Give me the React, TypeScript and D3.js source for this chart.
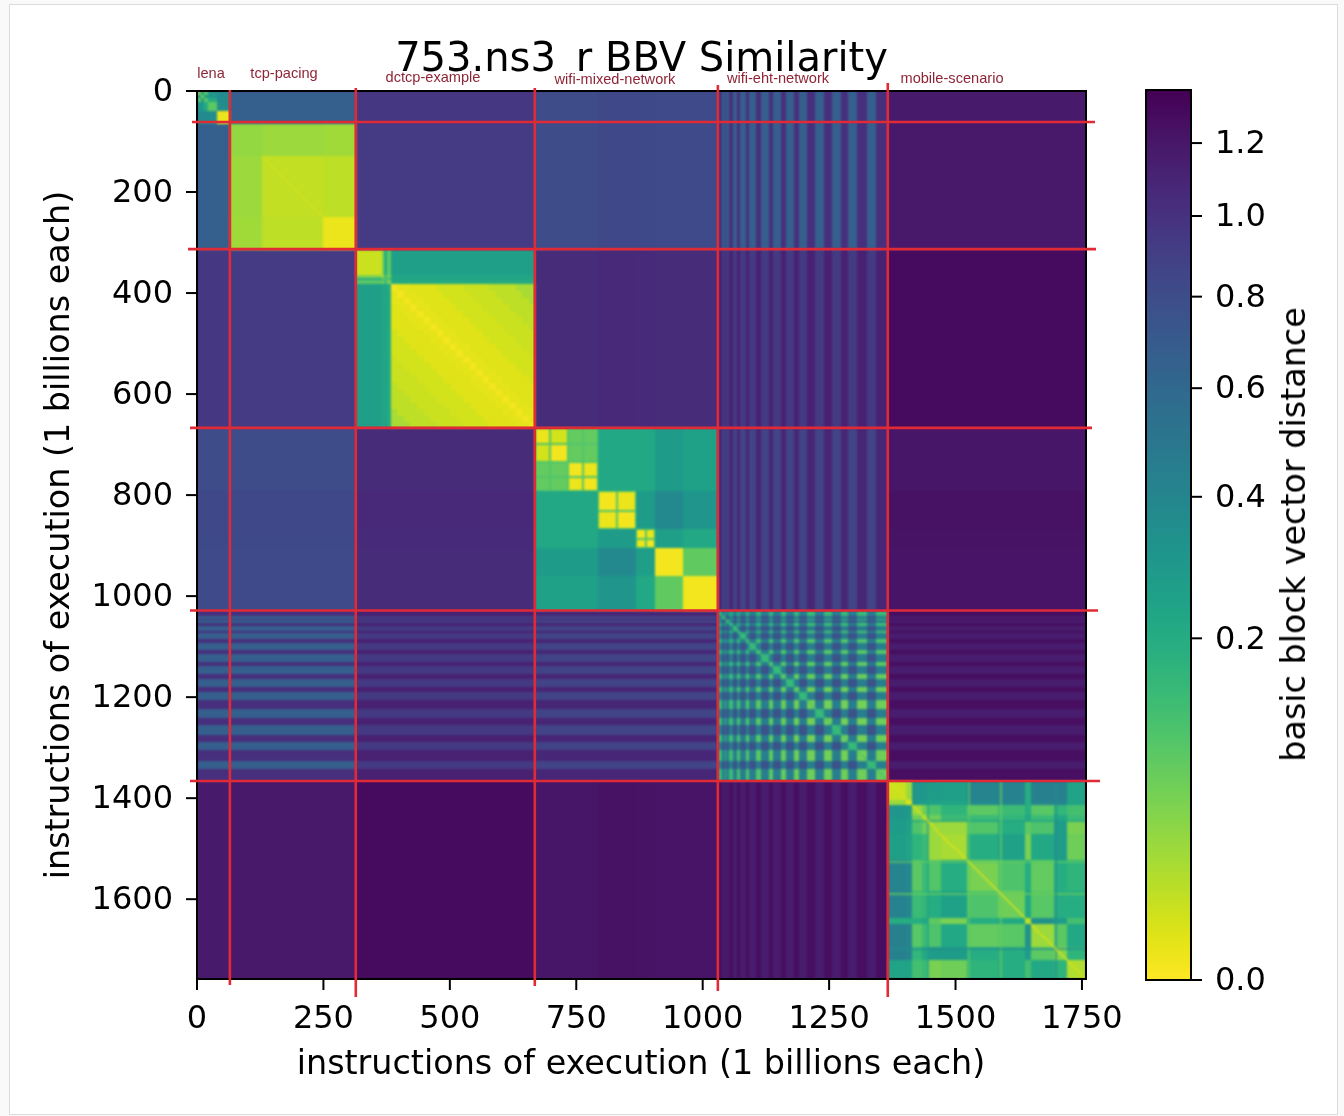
import React, { useEffect, useRef } from "react";
import * as d3 from "d3";

// ---------- data ----------
const N = 1758;
const VMAX = 1.357;
const title = "753.ns3_r BBV Similarity";
const axisLabel = "instructions of execution (1 billions each)";
const cbarLabel = "basic block vector distance";
const xTicks = [0, 250, 500, 750, 1000, 1250, 1500, 1750];
const yTicks = [0, 200, 400, 600, 800, 1000, 1200, 1400, 1600];
const cbarTicks = [0, 0.2, 0.4, 0.6, 0.8, 1.0, 1.2];
const programNames = ["lena", "tcp-pacing", "dctcp-example", "wifi-mixed-network", "wifi-eht-network", "mobile-scenario"];
const xBoundaries = [65, 314, 668, 1030, 1366];
const yBoundaries = [61.5, 313, 667, 1028.5, 1366];

const lenaEdges = [0, 7, 14, 21, 40, 65];
const tcpEdges = [65, 128, 250, 314];
const dctcpEdges = [314, 365, 369.5, 375, 383, 396, 409, 422, 435, 448, 461, 474, 487, 500, 513, 526, 539, 552, 565, 578, 591, 604, 617, 630, 643, 656, 668];
const mixedEdges = [668, 698, 734, 764, 792, 831, 868, 887, 905, 961, 1030];
const ehtEdges = [1030, 1039, 1045, 1046.5, 1053, 1059, 1068.5, 1073.5, 1085, 1092, 1106, 1115, 1131, 1139, 1154.5, 1164.5, 1180, 1190, 1206, 1223, 1240.5, 1256, 1274, 1288, 1305.5, 1325.5, 1343, 1366];
const mobileEdges = [1366, 1403, 1413, 1433, 1446, 1471, 1523, 1584, 1637, 1649, 1695, 1720, 1758];

// upper triangles: each row starts on the diagonal
const lenaTri = [
  [0.054, 0.275, 0.085, 0.3, 0.367],
  [0.054, 0.275, 0.3, 0.367],
  [0.085, 0.2, 0.367],
  [0.085, 0.36],
  [0.0012],
];
const tcpTri = [
  [0.035, 0.031, 0.027],
  [0.011, 0.0136],
  [0.0012],
];
const dctcpHeadTri = [
  [0.0087, 0.05, 0.2, 0.09],
  [0.02, 0.13, 0.06],
  [0.11, 0.14],
  [0.05],
];
const dctcpHeadToBody = [0.262, 0.225, 0.235, 0.21];
const dctcpFalloff = [0.0005, 0.0022, 0.0022, 0.0034, 0.0034, 0.0034, 0.0034, 0.0066, 0.0066, 0.0066, 0.0066, 0.0087, 0.0087, 0.0087, 0.0087, 0.0136, 0.0136, 0.0136, 0.0136, 0.023, 0.023, 0.023];
const mixedTri = [
  [0.0012, 0.0066, 0.078, 0.078, 0.217, 0.217, 0.217, 0.217, 0.275, 0.251],
  [0.0005, 0.078, 0.078, 0.217, 0.217, 0.217, 0.217, 0.275, 0.251],
  [0.0005, 0.0012, 0.217, 0.217, 0.217, 0.217, 0.275, 0.251],
  [0.0005, 0.217, 0.217, 0.217, 0.217, 0.275, 0.251],
  [0.0005, 0.0012, 0.275, 0.275, 0.381, 0.313],
  [0.0005, 0.275, 0.275, 0.381, 0.313],
  [0.0005, 0.0012, 0.263, 0.217],
  [0.0005, 0.263, 0.217],
  [0.0005, 0.08],
  [0.0005],
];
const mixedCluster = [0, 0, 1, 1, 2, 2, 3, 3, -1, -1];
const mixedGapValue = 0.1;
const mixedShade = [-0.01, -0.01, -0.01, -0.01, 0.015, 0.015, 0.005, 0.005, -0.005, -0.005];
const ehtLightA = [0.22, 0.22, 0.196, 0.166, 0.139, 0.122, 0.1, 0.085, 0.07, 0.062, 0.062, 0.062, 0.062, 0.07];
const ehtBB = 0.76;
const ehtAB = 0.45;
const mobileTri = [
  [0.0087, 0.0305, 0.313, 0.3, 0.275, 0.263, 0.41, 0.426, 0.196, 0.441, 0.441, 0.239],
  [0.0034, 0.287, 0.275, 0.251, 0.239, 0.381, 0.396, 0.196, 0.41, 0.41, 0.239],
  [0.0305, 0.066, 0.106, 0.166, 0.085, 0.139, 0.196, 0.092, 0.157, 0.122],
  [0.0305, 0.066, 0.139, 0.139, 0.157, 0.217, 0.139, 0.217, 0.139],
  [0.0305, 0.0305, 0.099, 0.196, 0.085, 0.106, 0.275, 0.054],
  [0.023, 0.196, 0.251, 0.054, 0.217, 0.275, 0.066],
  [0.054, 0.106, 0.196, 0.078, 0.196, 0.166],
  [0.066, 0.217, 0.092, 0.196, 0.196],
  [0.0195, 0.339, 0.275, 0.122],
  [0.0305, 0.085, 0.217],
  [0.044, 0.166],
  [0.0195],
];
const mobileLineStart = [1444, 1525, 1588, 1697];
const mobileLineEnd = [1448, 1528, 1591, 1701];
const mobileLineValue = [0.26, 0.09, 0.07, 0.36];
// order: lena, tcp, dctcp, mixed, (eht), mobile
const crossDistance = [
  [0, 0.665, 0.96, 0.82, 0, 1.18],
  [0.665, 0, 0.93, 0.82, 0, 1.19],
  [0.96, 0.93, 0, 1.05, 0, 1.28],
  [0.82, 0.82, 1.05, 0, 0, 1.22],
  [0, 0, 0, 0, 0, 0],
  [1.18, 1.19, 1.28, 1.22, 0, 0],
];
const ehtDarkToProgram = [1.02, 1.02, 1.12, 1.08, 0, 1.26];
const ehtBandToProgram = [0.665, 0.665, 0.935, 0.868, 0, 1.16];
const diagonalStart = [128, 1030, 1366];
const diagonalEnd = [250, 1366, 1758];
const diagonalValue = [0.007, 0.12, 0.005];
const diagonalStep = [4, 3, 4];

// ---------- lookup ----------
const programEdges = [lenaEdges, tcpEdges, dctcpEdges, mixedEdges, ehtEdges, mobileEdges];
const tri = (m: number[][], a: number, b: number) => (a <= b ? m[a][b - a] : m[b][a - b]);
const DCTCP_HEAD = 4;
function own(p: number, a: number, b: number): number {
  if (p === 0) return tri(lenaTri, a, b);
  if (p === 1) return tri(tcpTri, a, b);
  if (p === 2) {
    if (a < DCTCP_HEAD && b < DCTCP_HEAD) return tri(dctcpHeadTri, a, b);
    if (a < DCTCP_HEAD) return dctcpHeadToBody[a];
    if (b < DCTCP_HEAD) return dctcpHeadToBody[b];
    return dctcpFalloff[Math.abs(a - b)];
  }
  if (p === 3) return tri(mixedTri, a, b);
  if (p === 4) {
    const aIsB = a % 2 === 1, bIsB = b % 2 === 1;
    if (aIsB && bIsB) return a === b ? 0.16 : ehtBB;
    if (aIsB || bIsB) return ehtAB;
    return (ehtLightA[a / 2] + ehtLightA[b / 2]) / 2;
  }
  return tri(mobileTri, a, b);
}
function cross(p: number, a: number, q: number, b: number): number {
  if (q === 4) return b % 2 === 1 ? ehtBandToProgram[p] : ehtDarkToProgram[p];
  if (p === 4) return a % 2 === 1 ? ehtBandToProgram[q] : ehtDarkToProgram[q];
  let v = crossDistance[p][q];
  if (p === 3) v += mixedShade[a];
  if (q === 3) v += mixedShade[b];
  return v;
}

const segments = programEdges.flatMap((edges, p) =>
  d3.pairs(edges).map(([x0, x1], i) => ({ p, i, x0, x1 }))
);

// ---------- layout ----------
const PW = 1344, PH = 1116;
const x = d3.scaleLinear().domain([0, N]).range([197, 1086]);
const y = d3.scaleLinear().domain([0, N]).range([91, 979]);
const colorNorm = d3.scaleSqrt().domain([0, VMAX]).range([1, 0]);
const color = (v: number) => d3.interpolateViridis(colorNorm(Math.max(0, Math.min(VMAX, v))));
const cbarY = d3.scaleSqrt().domain([0, VMAX]).range([980, 90]);
const CB_L = 1146, CB_R = 1191;
const INK = "#000";
const RED = "#e02a36";
const LABEL_RED = "#8e2536";
const FONT = "'DejaVu Sans', sans-serif";
const labelPos = [[211, 77.5], [284, 77.5], [433, 81.5], [615, 83.5], [778, 82.5], [952, 82.5]];
const vLineEnds = [[90, 985], [88, 997], [88, 986], [85, 991], [83, 997]];
const hLineEnds = [[192, 1095], [188, 1096], [190, 1092], [190, 1098], [190, 1100]];

function Axis({ kind }: { kind: "x" | "y" | "c" }) {
  const ref = useRef<SVGGElement>(null);
  useEffect(() => {
    const g = d3.select(ref.current!);
    const fmt = kind === "c" ? (d: any) => d3.format(".1f")(d) : (d: any) => String(d);
    const axis =
      kind === "x" ? d3.axisBottom(x).tickValues(xTicks)
      : kind === "y" ? d3.axisLeft(y).tickValues(yTicks)
      : d3.axisRight(cbarY).tickValues(cbarTicks);
    axis.tickSize(11).tickPadding(kind === "x" ? 15 : 13).tickSizeOuter(0).offset(0).tickFormat(fmt as any);
    g.call(axis as any);
    g.select(".domain").remove();
    g.selectAll("line").attr("stroke", INK).attr("stroke-width", 2);
    g.selectAll("text").attr("fill", INK).attr("font-family", FONT).attr("font-size", 32);
  }, [kind]);
  const tr = kind === "x" ? `translate(0,${979})` : kind === "y" ? `translate(197,0)` : `translate(${CB_R},0)`;
  return <g ref={ref} transform={tr} />;
}

export default function App() {
  const cells: React.ReactNode[] = [];
  segments.forEach((r, ri) => {
    segments.forEach((c, ci) => {
      const sameProgram = r.p === c.p;
      const v = sameProgram ? own(r.p, r.i, c.i) : cross(r.p, r.i, c.p, c.i);
      const gx = x(c.x0), gy = y(r.x0), gw = x(c.x1) - gx, gh = y(r.x1) - gy;
      const ca = mixedCluster[r.i], cb = mixedCluster[c.i];
      const gridded = sameProgram && r.p === 3 && ca >= 0 && cb >= 0 && (ca === cb || ca + cb === 1);
      if (gridded) {
        cells.push(<rect key={`b${ri}-${ci}`} x={gx} y={gy} width={gw} height={gh} fill={color(mixedGapValue)} />);
        cells.push(<rect key={`c${ri}-${ci}`} x={gx + 1} y={gy + 1} width={gw - 2} height={gh - 2} fill={color(v)} />);
      } else {
        cells.push(<rect key={`c${ri}-${ci}`} x={gx} y={gy} width={gw} height={gh} fill={color(v)} />);
      }
    });
  });
  const mobileLines = mobileLineStart.flatMap((s, k) => {
    const e = mobileLineEnd[k], fill = color(mobileLineValue[k]);
    const a = xBoundaries[4];
    return [
      <rect key={`mh${k}`} x={x(a)} y={y(s)} width={x(N) - x(a)} height={y(e) - y(s)} fill={fill} fillOpacity={0.7} />,
      <rect key={`mv${k}`} x={x(s)} y={y(a)} width={x(e) - x(s)} height={y(N) - y(a)} fill={fill} fillOpacity={0.7} />,
    ];
  });
  const diag: React.ReactNode[] = [];
  diagonalStart.forEach((a, k) => {
    const b = diagonalEnd[k], st = diagonalStep[k], v = diagonalValue[k];
    d3.range(a, b, st).forEach((s) => {
      const e = Math.min(b, s + st);
      diag.push(<rect key={`d${k}-${s}`} x={x(s)} y={y(s)} width={x(e) - x(s)} height={y(e) - y(s)} fill={color(v)} />);
    });
  });
  const cbarRows = d3.range(90, 980);
  return (
    <svg width={PW} height={PH} viewBox={`0 0 ${PW} ${PH}`} style={{ position: "absolute", left: 0, top: 0, display: "block" }}>
      <defs>
        <filter id="soft" x="-2%" y="-2%" width="104%" height="104%" colorInterpolationFilters="sRGB">
          <feGaussianBlur stdDeviation="0.95" />
        </filter>
        <filter id="softText" filterUnits="userSpaceOnUse" x="0" y="0" width={PW} height={PH} colorInterpolationFilters="sRGB">
          <feGaussianBlur stdDeviation="0.45" />
        </filter>
        <clipPath id="plot"><rect x={x(0)} y={y(0)} width={x(N) - x(0)} height={y(N) - y(0)} /></clipPath>
      </defs>
      <rect width={PW} height={PH} fill="#f9f9f9" />
      <rect x={9.5} y={4.5} width={1328} height={1110} fill="#fff" stroke="#dcdcdc" />

      <g clipPath="url(#plot)">
        <rect x={x(0)} y={y(0)} width={x(N) - x(0)} height={y(N) - y(0)} fill={color(1.2)} />
        <g filter="url(#soft)" shapeRendering="crispEdges">
          {cells}
          {mobileLines}
          {diag}
        </g>
      </g>

      <g filter="url(#softText)">
        <text x={641.5} y={71} textAnchor="middle" fontFamily={FONT} fontSize={40} fill={INK}>{title}</text>
        <rect x={548} y={73} width={30} height={10} fill="#fff" />
        <rect x={x(0)} y={y(0)} width={x(N) - x(0)} height={y(N) - y(0)} fill="none" stroke={INK} strokeWidth={2} />
        <Axis kind="x" />
        <Axis kind="y" />
        <text x={641} y={1074} textAnchor="middle" fontFamily={FONT} fontSize={33.4} fill={INK}>{axisLabel}</text>
        <text transform={`translate(69,535) rotate(-90)`} textAnchor="middle" fontFamily={FONT} fontSize={33.4} fill={INK}>{axisLabel}</text>

        <g shapeRendering="crispEdges">
          {cbarRows.map((py) => (
            <rect key={py} x={CB_L} y={py} width={CB_R - CB_L} height={1} fill={color(cbarY.invert(py + 0.5))} />
          ))}
        </g>
        <rect x={CB_L} y={90} width={CB_R - CB_L} height={890} fill="none" stroke={INK} strokeWidth={2} />
        <Axis kind="c" />
        <text transform={`translate(1305,534.5) rotate(-90)`} textAnchor="middle" fontFamily={FONT} fontSize={33.4} fill={INK}>{cbarLabel}</text>

        {xBoundaries.map((b, i) => (
          <line key={`v${i}`} x1={x(b)} x2={x(b)} y1={vLineEnds[i][0]} y2={vLineEnds[i][1]} stroke={RED} strokeWidth={2.6} />
        ))}
        {yBoundaries.map((b, i) => (
          <line key={`h${i}`} x1={hLineEnds[i][0]} x2={hLineEnds[i][1]} y1={y(b)} y2={y(b)} stroke={RED} strokeWidth={2.6} />
        ))}
        {programNames.map((n, i) => (
          <text key={n} x={labelPos[i][0]} y={labelPos[i][1]} textAnchor="middle" fontFamily="'Liberation Sans', Arial, sans-serif" fontSize={14.6} fill={LABEL_RED}>{n}</text>
        ))}
      </g>
    </svg>
  );
}
